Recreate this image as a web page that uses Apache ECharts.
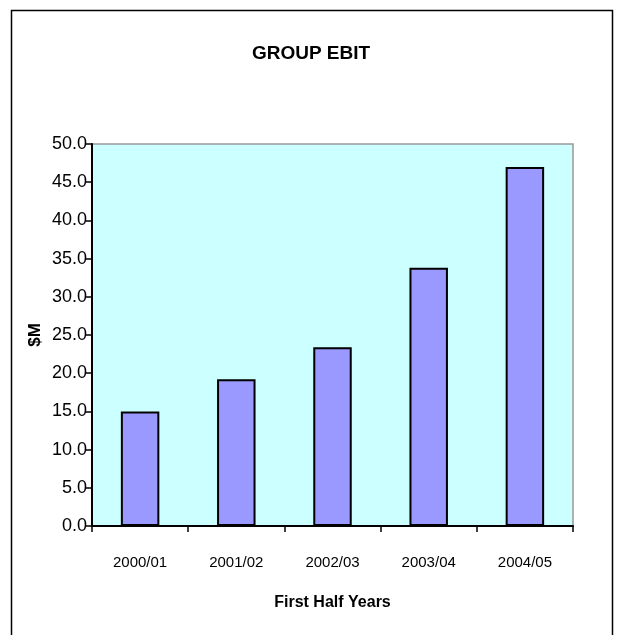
<!DOCTYPE html>
<html style="height: 100%">
<head>
    <meta charset="utf-8">
    <title>GROUP EBIT</title>
    <script type="text/javascript" src="https://cdn.jsdelivr.net/npm/echarts@6/dist/echarts.min.js"></script>
</head>
<body style="height: 100%; margin: 0; background: #fff">
    <div id="container" style="width: 622px; height: 635px"></div>
    <script type="text/javascript">
        // 数据
        var years = ['2000/01', '2001/02', '2002/03', '2003/04', '2004/05'];
        var ebit = [15.0, 19.2, 23.4, 33.8, 47.0];

        var myChart = echarts.init(document.getElementById('container'));
        var font = 'Liberation Sans, Arial, sans-serif';

        var option = {
            animation: false,
            backgroundColor: '#ffffff',
            // 外框
            graphic: [{
                type: 'rect',
                shape: { x: 11.5, y: 10.5, width: 601, height: 640 },
                style: { fill: 'none', stroke: '#000', lineWidth: 1.5 },
                silent: true
            }],
            title: {
                text: 'GROUP EBIT',
                left: 'center',
                top: 39,
                textStyle: { fontFamily: font, fontSize: 19, fontWeight: 'bold', color: '#000' }
            },
            grid: {
                left: 92,
                right: 49,
                top: 144,
                bottom: 109,
                show: true,
                backgroundColor: '#ccffff',
                borderColor: '#999999',
                borderWidth: 1.5
            },
            xAxis: {
                type: 'category',
                data: years,
                name: 'First Half Years',
                nameLocation: 'middle',
                nameGap: 69,
                nameTextStyle: { fontFamily: font, fontSize: 16, fontWeight: 'bold', color: '#000' },
                axisLine: { lineStyle: { color: '#000', width: 2 } },
                axisTick: { show: true, length: 6, lineStyle: { color: '#000', width: 1.5 } },
                axisLabel: { fontFamily: font, fontSize: 15, color: '#000', margin: 29 }
            },
            yAxis: {
                type: 'value',
                min: 0,
                max: 50,
                interval: 5,
                name: '$M',
                nameLocation: 'middle',
                nameGap: 48,
                nameMoveOverlap: false,
                nameTextStyle: { fontFamily: font, fontSize: 17, fontWeight: 'bold', color: '#000' },
                axisLine: { show: true, lineStyle: { color: '#000', width: 2 } },
                axisTick: { show: true, length: 7, lineStyle: { color: '#000', width: 1.5 } },
                splitLine: { show: false },
                axisLabel: {
                    fontFamily: font, fontSize: 18, color: '#000', margin: 5,
                    formatter: function (v) { return v.toFixed(1); }
                }
            },
            series: [{
                type: 'bar',
                data: ebit,
                barWidth: '40%',
                itemStyle: { color: '#9999ff', borderColor: '#000', borderWidth: 2 }
            }]
        };
        myChart.setOption(option);
    </script>
</body>
</html>
